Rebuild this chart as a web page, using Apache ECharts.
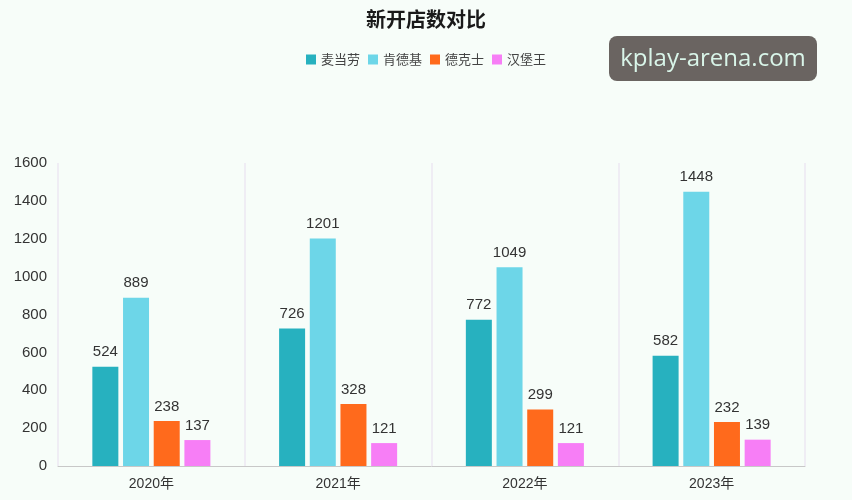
<!DOCTYPE html>
<html><head><meta charset="utf-8">
<script src="https://cdn.jsdelivr.net/npm/echarts@6/dist/echarts.min.js"></script>
<style>html,body{margin:0;padding:0;background:#f7fdf9;}#c{width:852px;height:500px;}</style>
</head><body><div id="c"></div>
<script>
var categories = ['2020年','2021年','2022年','2023年'];
var seriesNames = ['麦当劳','肯德基','德克士','汉堡王'];
var mcd = [524, 726, 772, 582];
var kfc = [889, 1201, 1049, 1448];
var dicos = [238, 328, 299, 232];
var bk = [137, 121, 121, 139];
var yTicks = [0,200,400,600,800,1000,1200,1400,1600];

var colors = ['#27b1bf', '#6dd6e8', '#ff6a1c', '#f77ef6'];
var dataSets = [mcd, kfc, dicos, bk];
var chart = echarts.init(document.getElementById('c'));
var font = '"Liberation Sans", "Noto Sans CJK SC", sans-serif';
var cjk = '"Noto Sans CJK SC", "Noto Sans", sans-serif';
chart.setOption({
  backgroundColor: '#f7fdf9',
  textStyle: {fontFamily: font},
  title: {text: '新开店数对比', left: 'center', top: 4,
    textStyle: {fontSize: 20, fontWeight: 'bold', color: '#1a1a1a', fontFamily: cjk}},
  legend: {data: seriesNames, top: 48, left: 'center', itemWidth: 10, itemHeight: 10, itemGap: 8,
    icon: 'rect', textStyle: {fontSize: 13, color: '#444', fontFamily: cjk}},
  grid: {left: 58, right: 47, top: 163, bottom: 34},
  xAxis: {type: 'category', data: categories,
    axisLine: {lineStyle: {color: '#c8c8c8'}}, axisTick: {show: false},
    axisLabel: {fontSize: 14, color: '#333', margin: 11, fontFamily: font},
    splitLine: {show: true, lineStyle: {color: '#efedf4', width: 2}}},
  yAxis: {type: 'value', min: 0, max: 1600, interval: 200,
    axisLabel: {fontSize: 15, color: '#333', margin: 11, fontFamily: font,
      formatter: function(v){ return String(v); }},
    axisLine: {show: false}, axisTick: {show: false}, splitLine: {show: false}},
  series: seriesNames.map(function(n, i){
    return {name: n, type: 'bar', data: dataSets[i], barWidth: 26, barGap: '18%',
      itemStyle: {color: colors[i]},
      label: {show: true, position: 'top', distance: 7, fontSize: 15, color: '#333', fontFamily: font}};
  }),
  graphic: [{type: 'group', left: 609, top: 36, children: [
    {type: 'rect', shape: {x: 0, y: 0, width: 208, height: 45, r: 8}, style: {fill: '#6a6461'}},
    {type: 'text', style: {x: 104, y: 23, text: 'kplay-arena.com', align: 'center', verticalAlign: 'middle',
      fill: '#d9f5e9', fontSize: 24, fontFamily: '"Open Sans", "Noto Sans", sans-serif'}}
  ]}]
});
</script></body></html>
